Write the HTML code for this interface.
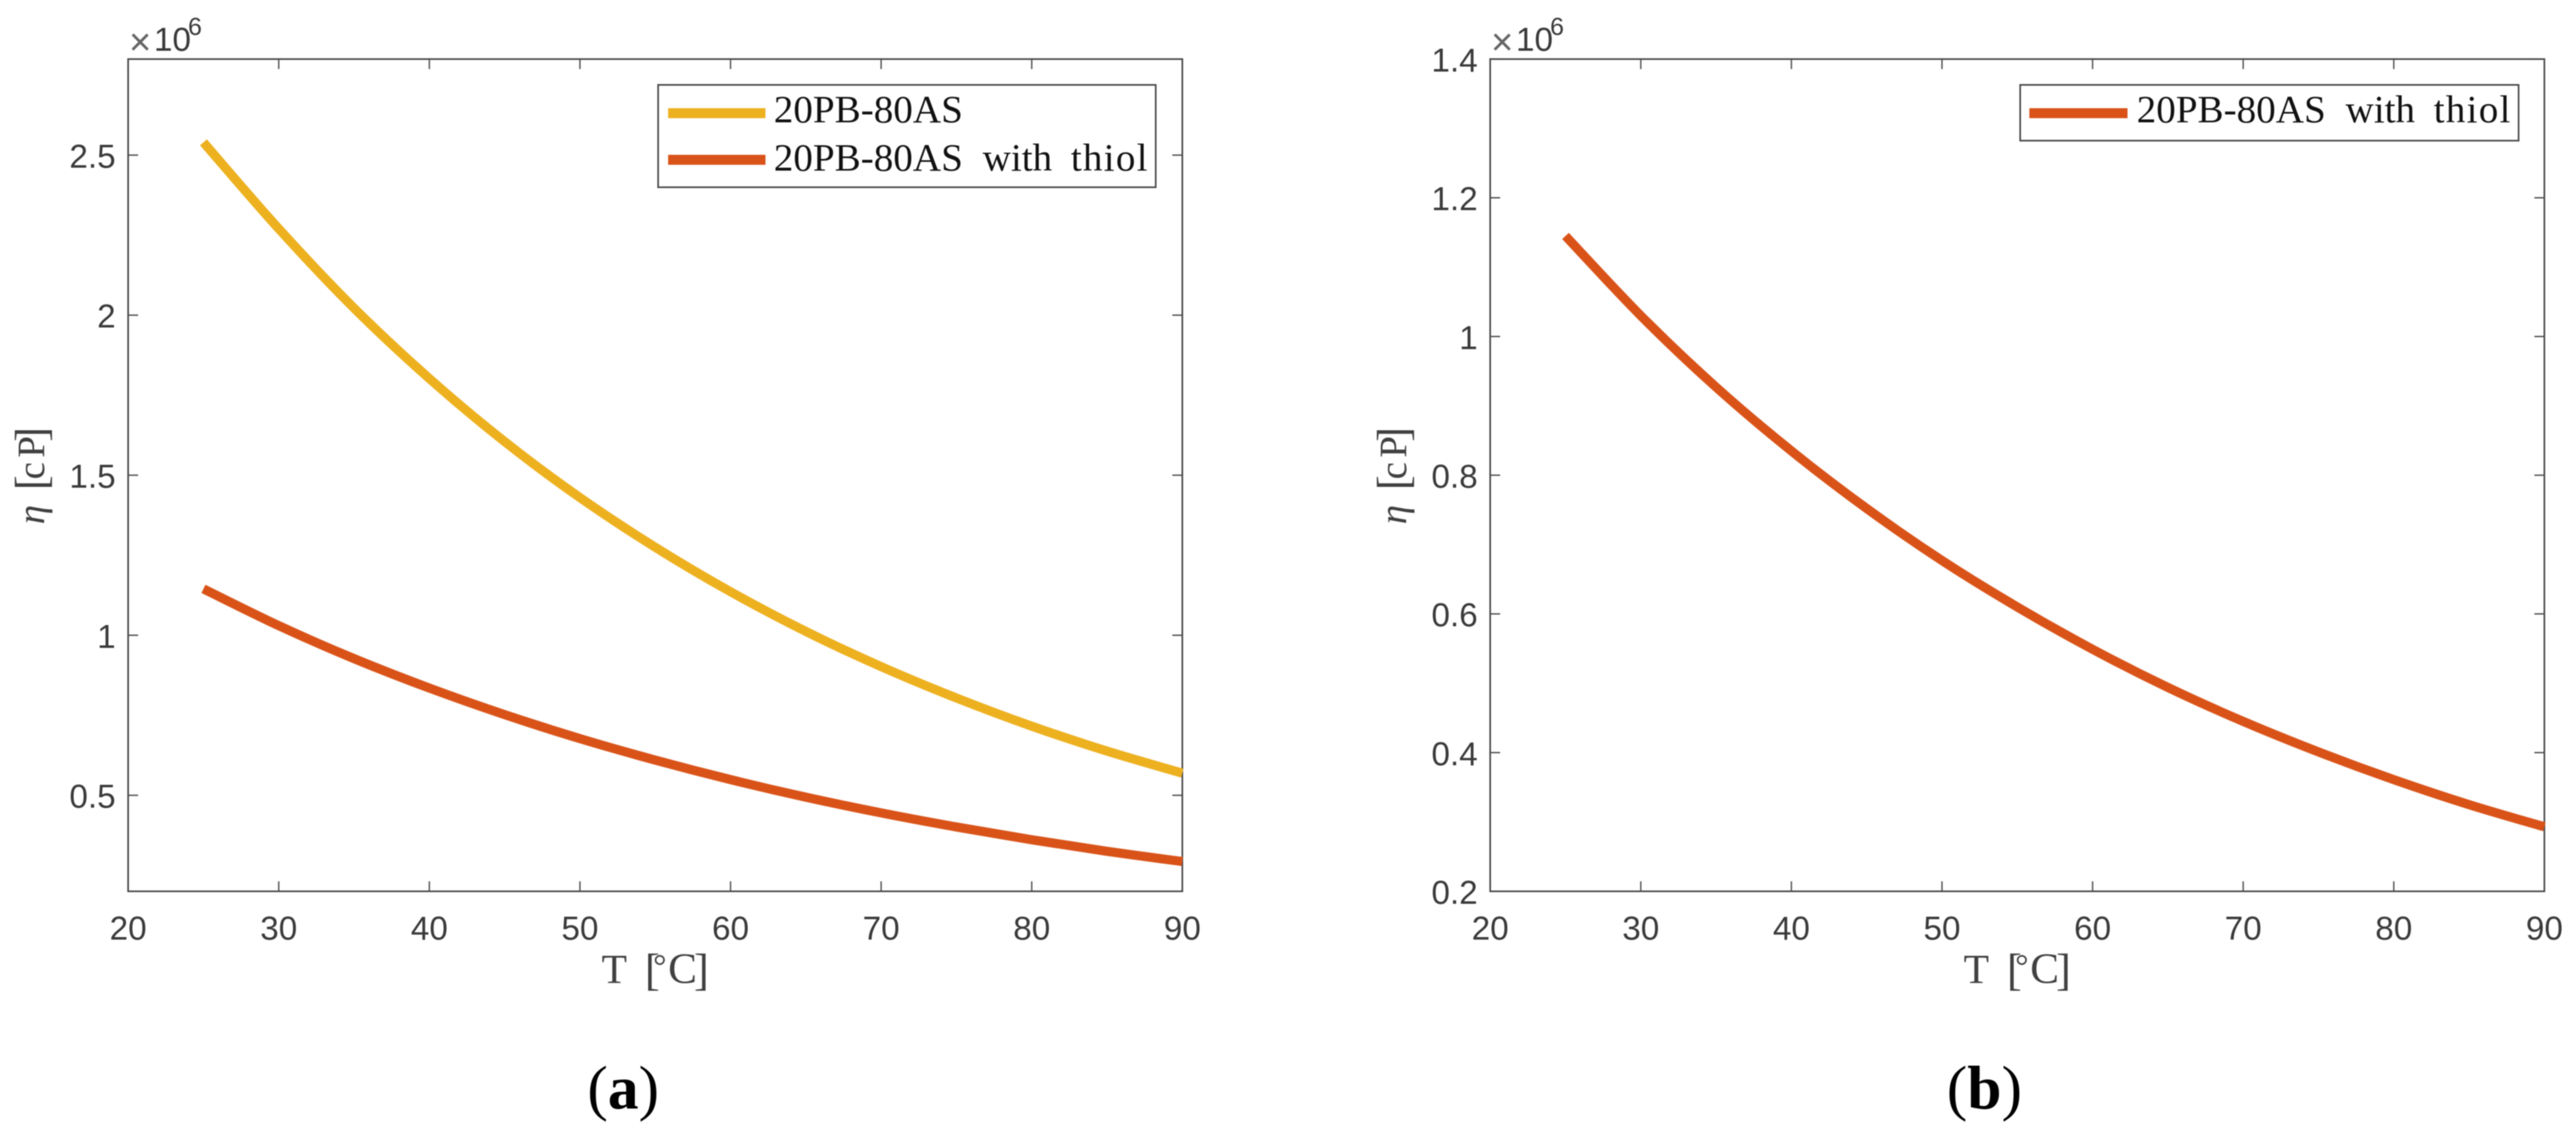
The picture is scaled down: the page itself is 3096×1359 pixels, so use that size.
<!DOCTYPE html>
<html lang="en">
<head>
<meta charset="utf-8">
<title>Viscosity versus temperature</title>
<style>
  html, body { margin: 0; padding: 0; background: #fff; }
  body { width: 3096px; height: 1359px; overflow: hidden; }
  svg { display: block; filter: blur(0.6px); }
  .tick-label { font-family: "Liberation Sans", sans-serif; font-size: 40px; fill: #3a3a3a; }
  .serif { font-family: "Liberation Serif", serif; font-size: 47px; fill: #404040; }
  .legend-text { font-family: "Liberation Serif", serif; font-size: 47px; fill: #111; }
  .caption { font-family: "Liberation Serif", serif; font-size: 74px; fill: #000; }
</style>
</head>
<body>
<svg id="figure" xmlns="http://www.w3.org/2000/svg" width="3096" height="1359" viewBox="0 0 3096 1359">
  <rect x="0" y="0" width="3096" height="1359" fill="#ffffff"/>
  <g id="panel-a"></g>
  <g id="panel-b"></g>

  <g>
    <text class="serif"><tspan x="723" y="1181" font-size="50">T</tspan><tspan x="775" y="1183.5" font-size="54">[</tspan><tspan x="785" y="1174" font-size="40">°</tspan><tspan x="803" y="1181" font-size="52">C</tspan><tspan x="834" y="1183.5" font-size="54">]</tspan></text>
    <text class="serif" transform="translate(53 630) rotate(-90)"><tspan font-style="italic" x="0" y="0">η</tspan><tspan x="41" y="2.5" font-size="54">[</tspan><tspan x="54" y="0">c</tspan><tspan x="80" y="0">P</tspan><tspan x="99" y="2.5" font-size="54">]</tspan></text>
    <text class="tick-label"><tspan x="155" y="66" font-size="46" fill="#666">×</tspan><tspan x="185" y="61">10</tspan><tspan x="226" y="42" font-size="30">6</tspan></text>
  </g>
  <g>
    <text class="serif"><tspan x="2360" y="1181" font-size="50">T</tspan><tspan x="2412" y="1183.5" font-size="54">[</tspan><tspan x="2422" y="1174" font-size="40">°</tspan><tspan x="2440" y="1181" font-size="52">C</tspan><tspan x="2471" y="1183.5" font-size="54">]</tspan></text>
    <text class="serif" transform="translate(1690 630) rotate(-90)"><tspan font-style="italic" x="0" y="0">η</tspan><tspan x="41" y="2.5" font-size="54">[</tspan><tspan x="54" y="0">c</tspan><tspan x="80" y="0">P</tspan><tspan x="99" y="2.5" font-size="54">]</tspan></text>
    <text class="tick-label"><tspan x="1792" y="66" font-size="46" fill="#666">×</tspan><tspan x="1822" y="61">10</tspan><tspan x="1863" y="42" font-size="30">6</tspan></text>
  </g>

  <g>
    <rect x="791" y="102" width="598" height="123" fill="#fff" stroke="#4a4a4a" stroke-width="2"/>
    <line x1="803" y1="136" x2="920" y2="136" stroke="#EDB120" stroke-width="12"/>
    <text class="legend-text" x="930" y="147">20PB-80AS</text>
    <line x1="803" y1="192" x2="920" y2="192" stroke="#D95319" stroke-width="12"/>
    <text class="legend-text" y="205"><tspan x="930">20PB-80AS</tspan><tspan x="1181">with</tspan><tspan x="1287" letter-spacing="1.5">thiol</tspan></text>
  </g>
  <g>
    <rect x="2428" y="102" width="599" height="67" fill="#fff" stroke="#4a4a4a" stroke-width="2"/>
    <line x1="2439" y1="136" x2="2557" y2="136" stroke="#D95319" stroke-width="12"/>
    <text class="legend-text" y="147"><tspan x="2568">20PB-80AS</tspan><tspan x="2819">with</tspan><tspan x="2925" letter-spacing="1.5">thiol</tspan></text>
  </g>

  <text class="caption" x="749" y="1332" text-anchor="middle">(<tspan font-weight="bold">a</tspan>)</text>
  <text class="caption" x="2385" y="1332" text-anchor="middle">(<tspan font-weight="bold">b</tspan>)</text>
</svg>

<script>
const temperatures = [25, 30, 35, 40, 45, 50, 55, 60, 65, 70, 75, 80, 85, 90];
const neatViscosity = [2.54, 2.27, 2.022, 1.802, 1.605, 1.43, 1.275, 1.136, 1.012, 0.902, 0.804, 0.716, 0.638, 0.569];
const thiolViscosity = [1.145, 1.03, 0.927, 0.835, 0.752, 0.677, 0.61, 0.549, 0.494, 0.445, 0.401, 0.361, 0.325, 0.293];

const xTicks = [20, 30, 40, 50, 60, 70, 80, 90];
const xTickLabels = ['20', '30', '40', '50', '60', '70', '80', '90'];
const yTicksA = [0.5, 1, 1.5, 2, 2.5];
const yTickLabelsA = ['0.5', '1', '1.5', '2', '2.5'];
const yTicksB = [0.2, 0.4, 0.6, 0.8, 1, 1.2, 1.4];
const yTickLabelsB = ['0.2', '0.4', '0.6', '0.8', '1', '1.2', '1.4'];

const SVG_NS = 'http://www.w3.org/2000/svg';
const TICK_LEN = 12;

function drawPanel(rootId, suffix, box, yDomain, yTicks, yLabels, seriesList) {
  const root = document.getElementById(rootId);
  const xScale = function (t) { return box.left + (t - 20) / (90 - 20) * (box.right - box.left); };
  const yScale = function (v) { return box.bottom - (v - yDomain[0]) / (yDomain[1] - yDomain[0]) * (box.bottom - box.top); };

  const frame = document.createElementNS(SVG_NS, 'rect');
  
  
  frame.setAttribute('x', box.left);
  frame.setAttribute('y', box.top);
  frame.setAttribute('width', box.right - box.left);
  frame.setAttribute('height', box.bottom - box.top);
  frame.setAttribute('fill', 'none');
  frame.setAttribute('stroke', '#4a4a4a');
  frame.setAttribute('stroke-width', '2');
  root.appendChild(frame);

  xTicks.forEach(function (t, i) {
    const px = xScale(t);
    [[box.bottom, box.bottom - TICK_LEN], [box.top, box.top + TICK_LEN]].forEach(function (ends) {
      const tick = document.createElementNS(SVG_NS, 'line');
      
      
      tick.setAttribute('x1', px);
      tick.setAttribute('x2', px);
      tick.setAttribute('y1', ends[0]);
      tick.setAttribute('y2', ends[1]);
      tick.setAttribute('stroke', '#4a4a4a');
      tick.setAttribute('stroke-width', '1.6');
      root.appendChild(tick);
    });
    const label = document.createElementNS(SVG_NS, 'text');
    
    
    label.setAttribute('class', 'tick-label');
    label.setAttribute('x', px);
    label.setAttribute('y', box.bottom + 58);
    label.setAttribute('text-anchor', 'middle');
    label.textContent = xTickLabels[i];
    root.appendChild(label);
  });

  yTicks.forEach(function (v, i) {
    const py = yScale(v);
    [[box.left, box.left + TICK_LEN], [box.right, box.right - TICK_LEN]].forEach(function (ends) {
      const tick = document.createElementNS(SVG_NS, 'line');
      
      
      tick.setAttribute('x1', ends[0]);
      tick.setAttribute('x2', ends[1]);
      tick.setAttribute('y1', py);
      tick.setAttribute('y2', py);
      tick.setAttribute('stroke', '#4a4a4a');
      tick.setAttribute('stroke-width', '1.6');
      root.appendChild(tick);
    });
    const label = document.createElementNS(SVG_NS, 'text');
    
    
    label.setAttribute('class', 'tick-label');
    label.setAttribute('x', box.left - 15);
    label.setAttribute('y', py + 15);
    label.setAttribute('text-anchor', 'end');
    label.textContent = yLabels[i];
    root.appendChild(label);
  });

  seriesList.forEach(function (series) {
    const pts = temperatures.map(function (t, i) { return [xScale(t), yScale(series.values[i])]; });
    let d = 'M' + pts[0][0] + ' ' + pts[0][1];
    for (let i = 0; i < pts.length - 1; i++) {
      const p0 = pts[Math.max(0, i - 1)];
      const p1 = pts[i];
      const p2 = pts[i + 1];
      const p3 = pts[Math.min(pts.length - 1, i + 2)];
      const c1x = p1[0] + (p2[0] - p0[0]) / 6;
      const c1y = p1[1] + (p2[1] - p0[1]) / 6;
      const c2x = p2[0] - (p3[0] - p1[0]) / 6;
      const c2y = p2[1] - (p3[1] - p1[1]) / 6;
      d += ' C' + c1x + ' ' + c1y + ' ' + c2x + ' ' + c2y + ' ' + p2[0] + ' ' + p2[1];
    }
    const path = document.createElementNS(SVG_NS, 'path');
    
    
    path.setAttribute('d', d);
    path.setAttribute('fill', 'none');
    path.setAttribute('stroke', series.color);
    path.setAttribute('stroke-width', '11');
    root.appendChild(path);
  });
}

drawPanel('panel-a', 'a', { left: 154, right: 1421, top: 71, bottom: 1071 }, [0.2, 2.8], yTicksA, yTickLabelsA, [
  { name: 'series-neat', color: '#EDB120', values: neatViscosity },
  { name: 'series-thiol', color: '#D95319', values: thiolViscosity }
]);
drawPanel('panel-b', 'b', { left: 1791, right: 3058, top: 71, bottom: 1071 }, [0.2, 1.4], yTicksB, yTickLabelsB, [
  { name: 'series-thiol', color: '#D95319', values: thiolViscosity }
]);
</script>
</body>
</html>
